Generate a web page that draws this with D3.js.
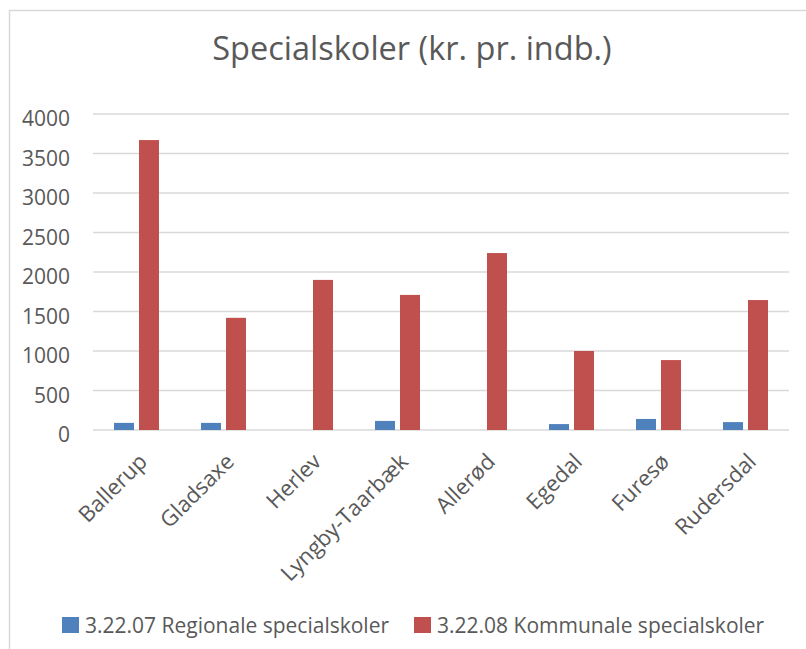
<!DOCTYPE html>
<html>
<head>
<meta charset="utf-8">
<script src="https://cdn.jsdelivr.net/npm/d3@7"></script>
<style>
  html, body { margin: 0; padding: 0; background: #fff; }
  svg { display: block; font-family: "Open Sans", "Noto Sans", sans-serif; }
</style>
</head>
<body>
<svg id="chart" width="806" height="649"></svg>
<script>
const categories = ["Ballerup", "Gladsaxe", "Herlev", "Lyngby-Taarbæk", "Allerød", "Egedal", "Furesø", "Rudersdal"];
const seriesNames = ["3.22.07 Regionale specialskoler", "3.22.08 Kommunale specialskoler"];
const regionale = [90, 90, 0, 115, 0, 75, 140, 100];
const kommunale = [3670, 1420, 1900, 1710, 2240, 1000, 885, 1645];
const yTicks = [0, 500, 1000, 1500, 2000, 2500, 3000, 3500, 4000];
const colors = ["#4F81BD", "#C0504D"];
const title = "Specialskoler (kr. pr. indb.)";

const svg = d3.select("#chart");
const textColor = "#595959";
const gridColor = "#D9D9D9";

// chart border (cut off at right and bottom like the reference)
svg.append("rect")
  .attr("x", 9.5).attr("y", 10.5)
  .attr("width", 820).attr("height", 660)
  .attr("fill", "none").attr("stroke", gridColor).attr("stroke-width", 1.5);

const plot = { left: 93, right: 789, top: 114, bottom: 430 };

const x0 = d3.scaleBand().domain(categories)
  .range([plot.left, plot.right])
  .paddingInner(0.483).paddingOuter(0.2415);
const x1 = d3.scaleBand().domain([0, 1])
  .range([0, x0.bandwidth()])
  .paddingInner(0.2).paddingOuter(0);
const y = d3.scaleLinear().domain([0, 4000]).range([plot.bottom, plot.top]);

// gridlines
svg.append("g").selectAll("line").data(yTicks).join("line")
  .attr("x1", plot.left).attr("x2", plot.right)
  .attr("y1", d => y(d)).attr("y2", d => y(d))
  .attr("stroke", gridColor).attr("stroke-width", 1.5);

// y tick labels
const yAxis = d3.axisLeft(y).tickValues(yTicks).tickSize(0).tickPadding(0).tickFormat(d3.format("d"));
const gy = svg.append("g").attr("transform", `translate(70,0)`).call(yAxis);
gy.select(".domain").remove();
gy.selectAll("text").attr("fill", textColor).style("font-size", "21px")
  .style("font-family", '"Open Sans", sans-serif')
  .attr("dy", "0.55em");

// bars
const data = categories.map((c, i) => ({ cat: c, vals: [regionale[i], kommunale[i]] }));
const groups = svg.append("g").selectAll("g").data(data).join("g")
  .attr("transform", d => `translate(${x0(d.cat)},0)`);
groups.selectAll("rect").data(d => d.vals.map((v, s) => ({ v, s }))).join("rect")
  .attr("x", d => x1(d.s))
  .attr("width", x1.bandwidth())
  .attr("y", d => y(d.v))
  .attr("height", d => y(0) - y(d.v))
  .attr("fill", d => colors[d.s]);

// x axis labels
const xAxis = d3.axisBottom(x0).tickSize(0).tickPadding(0);
const gx = svg.append("g").attr("transform", `translate(0,${plot.bottom})`).call(xAxis);
gx.select(".domain").remove();
gx.selectAll("text")
  .attr("fill", textColor)
  .style("font-size", "22px")
  .style("font-family", '"Open Sans", sans-serif')
  .attr("text-anchor", "end")
  .attr("dy", null)
  .attr("transform", "translate(12,33) rotate(-45)");

// title
svg.append("text")
  .attr("x", 412).attr("y", 60)
  .attr("text-anchor", "middle")
  .attr("fill", textColor)
  .style("font-size", "32.5px")
  .text(title);

// legend
const legendItems = [
  { name: seriesNames[0], color: colors[0], x: 62 },
  { name: seriesNames[1], color: colors[1], x: 414 }
];
const lg = svg.append("g").selectAll("g").data(legendItems).join("g")
  .attr("transform", d => `translate(${d.x},617)`);
lg.append("rect").attr("width", 17).attr("height", 16).attr("fill", d => d.color);
lg.append("text").attr("x", 23).attr("y", 16)
  .attr("fill", textColor).style("font-size", "21px")
  .text(d => d.name);
</script>
</body>
</html>
